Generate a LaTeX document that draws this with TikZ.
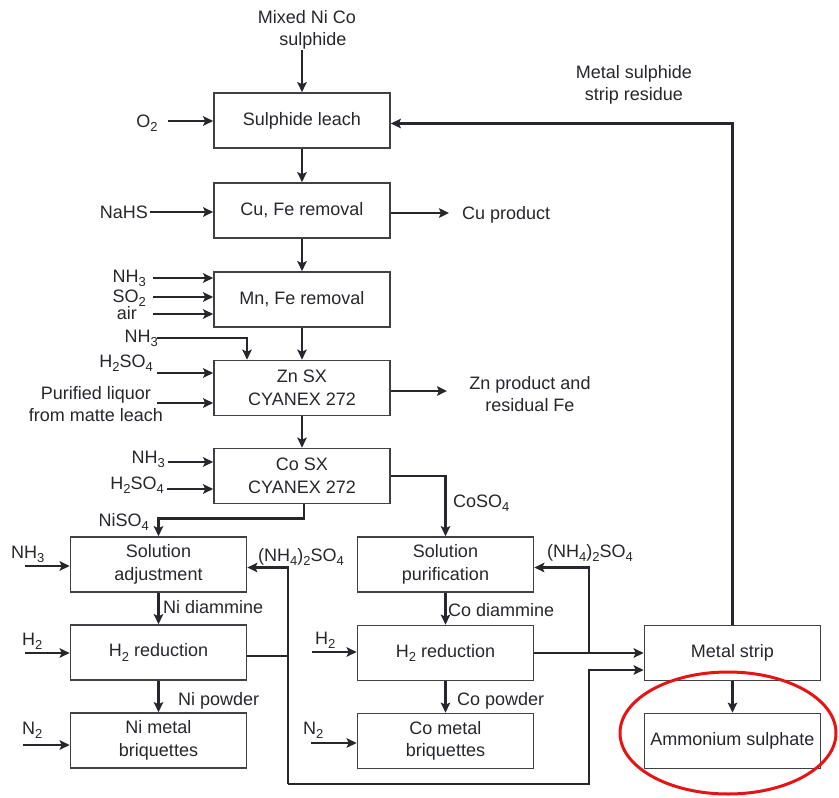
\documentclass[tikz,border=0pt]{standalone}
\usepackage{fontspec}
\setmainfont{Liberation Sans}
\usetikzlibrary{arrows.meta}
\definecolor{ink}{HTML}{26262C}
\definecolor{boxline}{HTML}{404046}
\definecolor{ringred}{RGB}{230,20,20}
\newcommand{\lowsub}[1]{\raisebox{-4.5pt}{\fontsize{13}{13}\selectfont #1}}
\begin{document}
\begin{tikzpicture}[x=1pt,y=-1pt,
  font=\fontsize{18}{22.5}\selectfont, text=ink,
  pbox/.style={draw=boxline, line width=1.7pt, minimum width=176pt, minimum height=55pt, align=center, inner sep=0pt},
  lbl/.style={inner sep=0pt, align=center},
  flow/.style={draw=ink, line width=2.7pt},
  arr/.style={flow, -{Stealth[length=10pt,width=9.5pt,inset=2pt]}},
]
\useasboundingbox (0,0) rectangle (839,798);

% process boxes
\node[pbox] (leach)  at (302,120.5) {Sulphide leach};
\node[pbox] (cufe)   at (302,210.5) {Cu, Fe removal};
\node[pbox] (mnfe)   at (302,299.5) {Mn, Fe removal};
\node[pbox] (znsx)   at (302,388)   {Zn SX\\CYANEX 272};
\node[pbox] (cosx)   at (302,476)   {Co SX\\CYANEX 272};
\node[pbox] (soladj) at (158.5,564.5) {Solution\\adjustment};
\node[pbox] (nired)  at (158.5,652.5) {H\lowsub{2} reduction};
\node[pbox] (nibriq) at (158.5,740.5) {Ni metal\\briquettes};
\node[pbox] (solpur) at (445.5,564.5) {Solution\\purification};
\node[pbox] (cored)  at (445.5,653)   {H\lowsub{2} reduction};
\node[pbox] (cobriq) at (445.5,741)   {Co metal\\briquettes};
\node[pbox] (strip)  at (732.5,653)   {Metal strip};
\node[pbox] (amsul)  at (732.5,741)   {Ammonium sulphate};

% labels
\node[lbl] (mixed) at (307,30) {Mixed Ni Co\\\hspace*{12pt}sulphide};
\node[lbl, anchor=base] (o2) at (147,127) {O\lowsub{2}};
\node[lbl, anchor=base] (nahs) at (124,218) {NaHS};
\node[lbl, anchor=base west] (cuprod) at (462,219) {Cu product};
\node[lbl] (msr) at (634,85) {Metal sulphide\\strip residue};
\node[lbl, anchor=base east] (nh3a) at (146,282) {NH\lowsub{3}};
\node[lbl, anchor=base east] (so2) at (146,302) {SO\lowsub{2}};
\node[lbl, anchor=base east] (air) at (137,319) {air};
\node[lbl, anchor=base east] (nh3b) at (158,342) {NH\lowsub{3}};
\node[lbl, anchor=base east] (h2so4a) at (153,367) {H\lowsub{2}SO\lowsub{4}};
\node[lbl] (purif) at (96,404) {Purified liquor\\from matte leach};
\node[lbl] (znprod) at (530,394) {Zn product and\\residual Fe};
\node[lbl, anchor=base east] (nh3c) at (165,463) {NH\lowsub{3}};
\node[lbl, anchor=base east] (h2so4c) at (164,489) {H\lowsub{2}SO\lowsub{4}};
\node[lbl, anchor=base east] (niso4) at (149,526) {NiSO\lowsub{4}};
\node[lbl, anchor=base west] (coso4) at (453,507) {CoSO\lowsub{4}};
\node[lbl, anchor=base west] (nh3d) at (11,558) {NH\lowsub{3}};
\node[lbl, anchor=base west] (nh4a) at (258,561) {(NH\lowsub{4})\lowsub{2}SO\lowsub{4}};
\node[lbl, anchor=base east] (nh4b) at (633,557) {(NH\lowsub{4})\lowsub{2}SO\lowsub{4}};
\node[lbl, anchor=base west] (nidiam) at (163,613) {Ni diammine};
\node[lbl, anchor=base west] (codiam) at (448,616) {Co diammine};
\node[lbl, anchor=base west] (h2e) at (22,645) {H\lowsub{2}};
\node[lbl, anchor=base west] (h2f) at (315,644) {H\lowsub{2}};
\node[lbl, anchor=base west] (nipow) at (178,705) {Ni powder};
\node[lbl, anchor=base west] (copow) at (457,705) {Co powder};
\node[lbl, anchor=base west] (n2a) at (22,734) {N\lowsub{2}};
\node[lbl, anchor=base west] (n2b) at (303,734) {N\lowsub{2}};

% free ends of connectors
\coordinate (iO) at (168,121);
\coordinate (iNaHS) at (150,212);
\coordinate (oCu) at (449,213);
\coordinate (iN1) at (153,278);
\coordinate (iS) at (153,297);
\coordinate (iA) at (153,314);
\coordinate (iN2) at (157,338);
\coordinate (iH1) at (157,373);
\coordinate (iP) at (157,403);
\coordinate (oZn) at (447,391);
\coordinate (iN3) at (168,462);
\coordinate (iH2) at (167,489);
\coordinate (iN4) at (25,566);
\coordinate (iHa) at (25,653);
\coordinate (iNa) at (23,745);
\coordinate (iHb) at (312,652);
\coordinate (iNb) at (311,743);
\coordinate (jL) at (288,784);
\coordinate (jN) at (288,656);
\coordinate (jR) at (589,670);
\coordinate (jT) at (589,653);

% main line
\draw[arr] (leach.north |- mixed.south) -- (leach.north);
\draw[arr] (leach) -- (cufe);
\draw[arr] (cufe) -- (mnfe);
\draw[arr] (mnfe) -- (znsx);
\draw[arr] (znsx) -- (cosx);
\draw[arr] ([xshift=2pt]cosx.south) |- ([yshift=18pt]soladj.north) -- (soladj.north);
\draw[arr] (cosx.east) -| (solpur.north);
\draw[arr] (soladj) -- (nired);
\draw[arr] (nired) -- (nibriq);
\draw[arr] (solpur) -- (cored);
\draw[arr] (cored) -- (cobriq);
\draw[arr] (strip) -- (amsul);

% inputs and outputs
\draw[arr] (iO) -- (iO -| leach.west);
\draw[arr] (iNaHS) -- (iNaHS -| cufe.west);
\draw[arr] (oCu -| cufe.east) -- (oCu);
\draw[arr] (iN1) -- (iN1 -| mnfe.west);
\draw[arr] (iS) -- (iS -| mnfe.west);
\draw[arr] (iA) -- (iA -| mnfe.west);
\draw[arr] (iN2) -| ([xshift=-55pt]znsx.north);
\draw[arr] (iH1) -- (iH1 -| znsx.west);
\draw[arr] (iP) -- (iP -| znsx.west);
\draw[arr] (oZn -| znsx.east) -- (oZn);
\draw[arr] (iN3) -- (iN3 -| cosx.west);
\draw[arr] (iH2) -- (iH2 -| cosx.west);
\draw[arr] (iN4) -- (iN4 -| soladj.west);
\draw[arr] (iHa) -- (iHa -| nired.west);
\draw[arr] (iNa) -- (iNa -| nibriq.west);
\draw[arr] (iHb) -- (iHb -| cored.west);
\draw[arr] (iNb) -- (iNb -| cobriq.west);

% recycle loops
\draw[flow] (jN -| nired.east) -- (jN);
\draw[arr] (jL) |- ([yshift=-3pt]soladj.east);
\draw[arr] (jL) -| (jR) -- (jR -| strip.west);
\draw[arr] (cored.east) -- (cored.east -| strip.west);
\draw[arr] (jT) |- ([yshift=-3pt]solpur.east);
\draw[arr] (strip.north) |- ([yshift=-3pt]leach.east);

% highlight
\draw[ringred, line width=3pt] (728,733) ellipse [x radius=108pt, y radius=61pt];
\end{tikzpicture}
\end{document}
